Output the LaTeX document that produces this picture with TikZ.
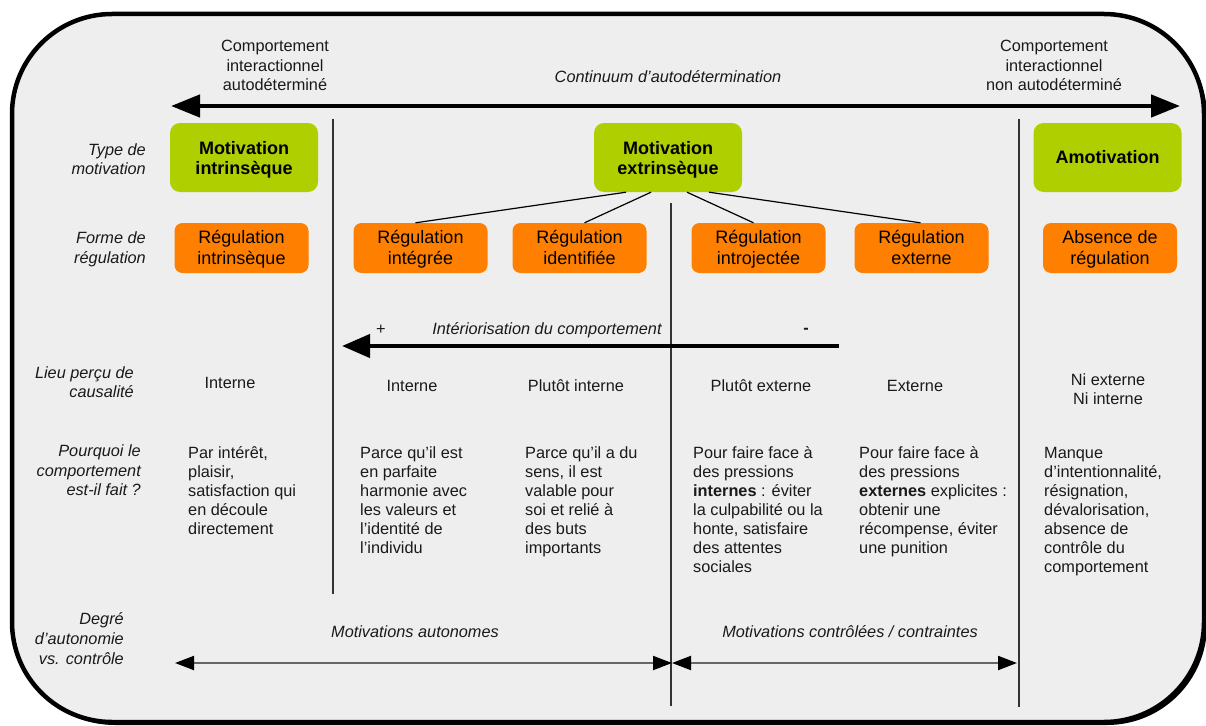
\documentclass[tikz,border=0pt]{standalone}
\usepackage{fontspec}
\setmainfont{Liberation Sans}
\usetikzlibrary{arrows.meta,calc}
\definecolor{bg}{HTML}{EEEEEE}
\definecolor{vert}{RGB}{176,207,0}
\definecolor{orng}{HTML}{FF8000}
\definecolor{txt}{HTML}{1A1A1A}
\definecolor{sepc}{HTML}{333333}
\definecolor{thinc}{HTML}{666666}
\newcommand{\blk}[1]{\begin{tabular}[t]{@{}l@{}}#1\end{tabular}}
\newcommand{\twol}[3]{\begin{tabular}{@{}c@{}}\rule{0pt}{#1}#2\\#3\end{tabular}}
\begin{document}
\begin{tikzpicture}[x=1pt,y=-1pt,
  every node/.style={text=txt, inner sep=0pt},
  norm/.style={font=\fontsize{16.3}{19.3}\selectfont, align=center},
  itl/.style={font=\fontsize{16.3}{19.6}\selectfont\itshape, align=center},
  rowlab/.style={font=\fontsize{16.3}{19.6}\selectfont\itshape, align=right, anchor=east},
  blocktxt/.style={font=\fontsize{16.3}{19}\selectfont, anchor=base west},
  greenbox/.style={fill=vert, rounded corners=10pt, minimum width=148pt, minimum height=69pt,
    font=\fontsize{18}{20.5}\selectfont\bfseries, text=black},
  orangebox/.style={fill=orng, rounded corners=8pt, minimum width=134pt, minimum height=50pt,
    font=\fontsize{18}{21}\selectfont, text=black},
  septline/.style={draw=sepc, line width=1.3pt},
  branch/.style={draw=black, line width=1.2pt},
  bigboth/.style={line width=4.5pt, {Triangle[length=29pt,width=22pt]}-{Triangle[length=29pt,width=22pt]}},
  bigone/.style={line width=4.3pt, -{Triangle[length=28pt,width=23pt]}},
  smallboth/.style={draw=thinc, line width=2pt, {Triangle[length=19pt,width=14pt,color=black]}-{Triangle[length=19pt,width=14pt,color=black]}}
]
\useasboundingbox (0,0) rectangle (1206,725);
% frame
\fill[black, rounded corners=100pt] (15,17) rectangle (1207,725);
\draw[line width=4.5pt, fill=bg, rounded corners=100pt] (12,14) rectangle (1204,722);

% top continuum
\node[norm] (t1) at (275,65.5) {Comportement\\interactionnel\\autodéterminé};
\node[itl] (t2) at (668,77) {Continuum d’autodétermination};
\node[norm] (t3) at (1054,65.5) {Comportement\\interactionnel\\non autodéterminé};
\coordinate (ta) at (171,106);
\coordinate (tb) at (1180,106);
\draw[bigboth] (ta) -- (tb);

% separators
\coordinate (v1t) at (333,119); \coordinate (v1b) at (333,594);
\coordinate (v2t) at (671,203); \coordinate (v2b) at (671,706);
\coordinate (v3t) at (1019,119); \coordinate (v3b) at (1019,707);
\draw[septline] (v1t) -- (v1b);
\draw[septline] (v2t) -- (v2b);
\draw[septline] (v3t) -- (v3b);

% row labels
\node[rowlab] (l1) at (146,159) {Type de\\motivation};
\node[rowlab] (l2) at (146,249.5) {Forme de\\régulation};
\node[rowlab] (l3) at (134,382) {Lieu perçu de\\causalité};
\node[rowlab] (l4) at (141,470.5) {Pourquoi le\\comportement\\est-il fait ?};
\node[rowlab] (l5) at (124,638.5) {Degré\\d’autonomie\\vs. contrôle};

% green boxes
\node[greenbox] (mi) at (244,157.5) {\twol{20pt}{Motivation}{intrinsèque}};
\node[greenbox] (me) at (668,157.5) {\twol{20pt}{Motivation}{extrinsèque}};
\node[greenbox] (am) at (1107.5,157.5) {Amotivation};

% orange boxes
\node[orangebox] (ri) at (241.5,248) {\twol{18pt}{Régulation}{intrinsèque}};
\node[orangebox] (rg) at (420.5,248) {\twol{18pt}{Régulation}{intégrée}};
\node[orangebox] (rd) at (579.5,248) {\twol{18pt}{Régulation}{identifiée}};
\node[orangebox] (rj) at (758.5,248) {\twol{18pt}{Régulation}{introjectée}};
\node[orangebox] (re) at (921.5,248) {\twol{18pt}{Régulation}{externe}};
\node[orangebox] (ra) at (1110,248) {\twol{18pt}{Absence de}{régulation}};

\draw[branch] ($(me.south)+(-42,0)$) -- ($(rg.north)+(-5,0)$);
\draw[branch] ($(me.south)+(-17,0)$) -- ($(rd.north)+(5,0)$);
\draw[branch] ($(me.south)+(19,0)$) -- ($(rj.north)+(-5,0)$);
\draw[branch] ($(me.south)+(41,0)$) -- ($(re.north)+(-1,0)$);

% interiorisation
\coordinate (ia) at (839,346);
\coordinate (ib) at (342,346);
\draw[bigone] (ia) -- (ib);
\node[norm] (plus) at (381,330) {+};
\node[itl] (inter) at (547,330) {Intériorisation du comportement};
\node[norm] (minus) at (806,331) {\textbf{-}};

% lieu de causalite
\node[norm] (c1) at (230,383) {Interne};
\node[norm] (c2) at (412,386) {Interne};
\node[norm] (c3) at (576,386) {Plutôt interne};
\node[norm] (c4) at (761,386) {Plutôt externe};
\node[norm] (c5) at (915,386) {Externe};
\node[norm] (c6) at (1108,389.5) {Ni externe\\Ni interne};

% pourquoi
\node[blocktxt] (p1) at (188,458) {\blk{Par intérêt,\\plaisir,\\satisfaction qui\\en découle\\directement}};
\node[blocktxt] (p2) at (360,458) {\blk{Parce qu’il est\\en parfaite\\harmonie avec\\les valeurs et\\l’identité de\\l’individu}};
\node[blocktxt] (p3) at (525,458) {\blk{Parce qu’il a du\\sens, il est\\valable pour\\soi et relié à\\des buts\\importants}};
\node[blocktxt] (p4) at (693,458) {\blk{Pour faire face à\\des pressions\\\textbf{internes} : éviter\\la culpabilité ou la\\honte, satisfaire\\des attentes\\sociales}};
\node[blocktxt] (p5) at (859,458) {\blk{Pour faire face à\\des pressions\\\textbf{externes} explicites :\\obtenir une\\récompense, éviter\\une punition}};
\node[blocktxt] (p6) at (1044,458) {\blk{Manque\\d’intentionnalité,\\résignation,\\dévalorisation,\\absence de\\contrôle du\\comportement}};

% autonomie vs controle
\node[itl] (m1) at (415,632) {Motivations autonomes};
\node[itl] (m2) at (850,632) {Motivations contrôlées / contraintes};
\coordinate (ba) at (175,663);
\coordinate (bb) at (672,663);
\coordinate (bc) at (1017,663);
\draw[smallboth] (ba) -- (bb);
\draw[smallboth] (bb) -- (bc);
\end{tikzpicture}
\end{document}
